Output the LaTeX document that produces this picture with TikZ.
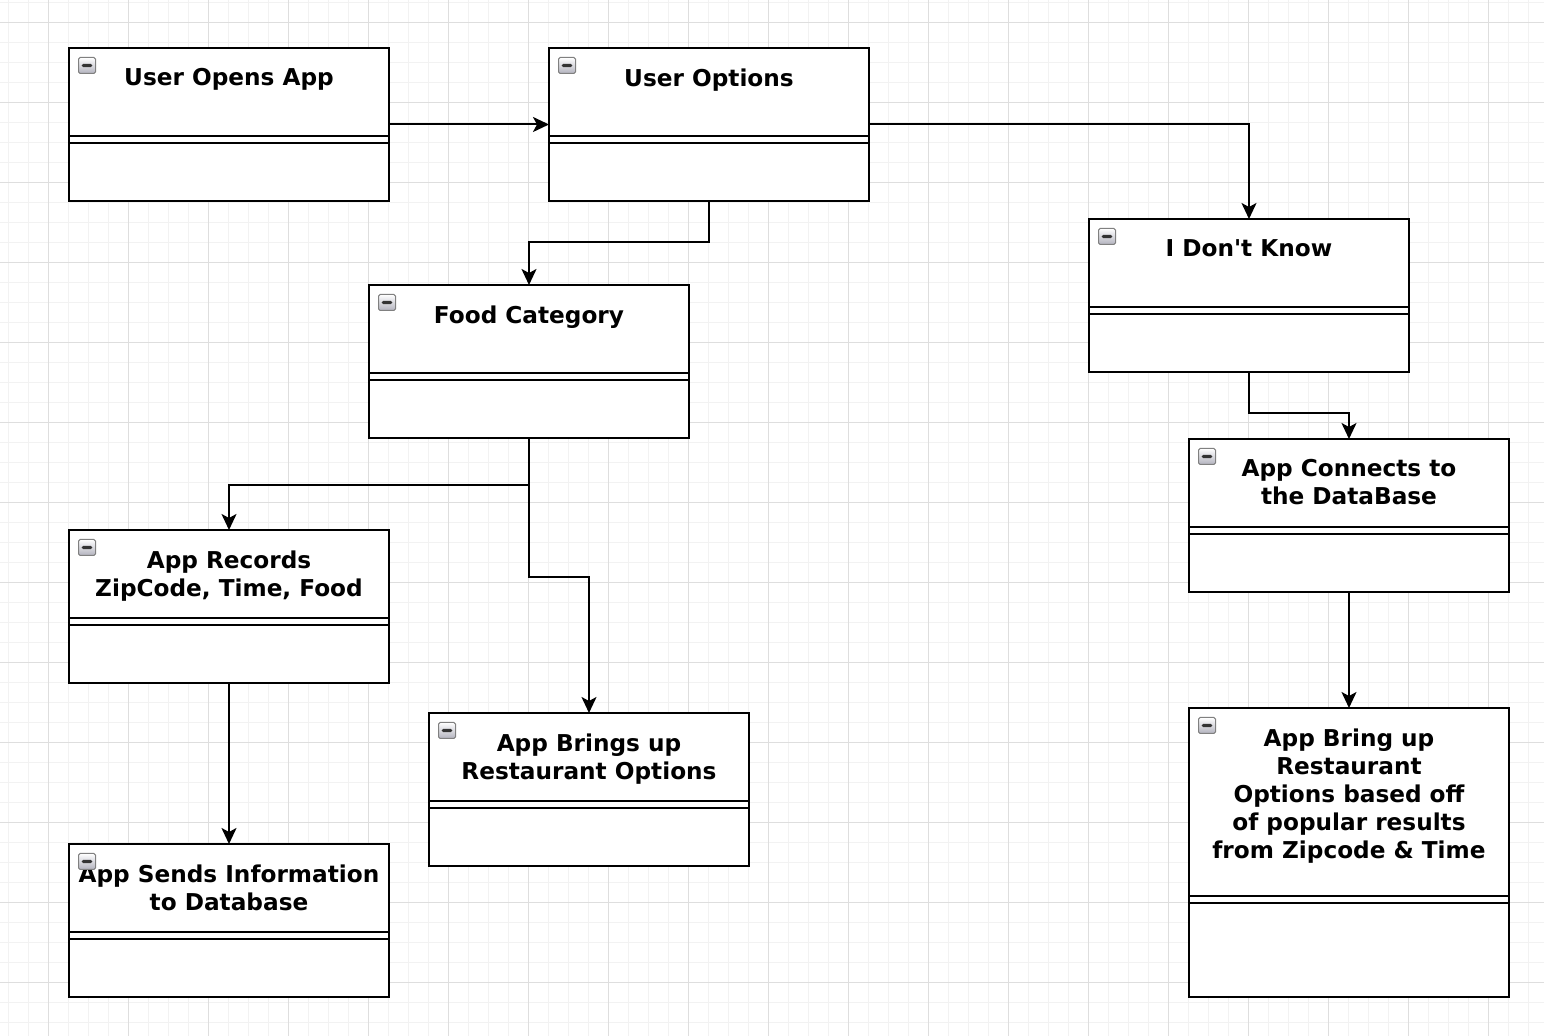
\documentclass[tikz,border=0pt]{standalone}
\usepackage{fontspec}
\setmainfont{DejaVu Sans}
\usetikzlibrary{arrows.meta,positioning,calc}

\tikzset{
 umlbox/.style={rectangle,draw=black,line width=1pt,fill=white,minimum width=160pt,minimum height=76.5pt,inner sep=0pt,outer sep=0pt},
 boxtitle/.style={align=center,inner sep=0pt,font=\bfseries\fontsize{11.6}{14}\selectfont},
 minusicon/.style={rectangle,draw=black!50,line width=0.5pt,rounded corners=0.8pt,top color=white,bottom color=blue!15!black!30,minimum width=8.5pt,minimum height=8pt,inner sep=0pt,
  path picture={\fill[black!80] ([xshift=1.6pt,yshift=-0.8pt]path picture bounding box.west) rectangle ([xshift=-1.6pt,yshift=0.8pt]path picture bounding box.east);}},
 divider/.style={draw=black,line width=1pt},
 flow/.style={draw=black,line width=1pt,-{Stealth[length=8pt,width=7.5pt,inset=2pt]}},
 minorline/.style={draw=black!5,line width=0.5pt},
 majorline/.style={draw=black!13,line width=0.5pt}
}

\begin{document}
\begin{tikzpicture}[x=0.5pt,y=-0.5pt]
\useasboundingbox (0,0) rectangle (1544,1036);
\fill[white] (0,0) rectangle (1544,1036);
\foreach \x in {8,28,...,1544} \draw[minorline] (\x,0) -- (\x,1036);
\foreach \y in {3,23,...,1036} \draw[minorline] (0,\y) -- (1544,\y);
\foreach \x in {48,128,...,1544} \draw[majorline] (\x,0) -- (\x,1036);
\foreach \y in {23,103,...,1036} \draw[majorline] (0,\y) -- (1544,\y);

\node[umlbox] (uoa) at (229,124.5){};
\node[umlbox] (uop) at (709,124.5){};
\node[umlbox] (idk) at (1249,295.5){};
\node[umlbox] (fc) at (529,361.5){};
\node[umlbox] (con) at (1349,515.5){};
\node[umlbox] (rec) at (229,606.5){};
\node[umlbox] (bru) at (589,789.5){};
\node[umlbox] (snd) at (229,920.5){};
\node[umlbox,minimum height=144.5pt] (pop) at (1349,852.5){};

\foreach \b/\d in {uoa/88,uop/88,idk/88,fc/88,con/88,rec/88,bru/88,snd/88,pop/188}{
  \draw[divider] ($(\b.north west)+(0,\d)$) -- ($(\b.north east)+(0,\d)$);
  \draw[divider] ($(\b.north west)+(0,\d+7.5)$) -- ($(\b.north east)+(0,\d+7.5)$);
}

\node[boxtitle,below=10pt of uoa.north] (uoat) {User Opens App};
\node[boxtitle,below=10pt of uop.north] (uopt) {User Options};
\node[boxtitle,below=10pt of idk.north] (idkt) {I Don\textquotesingle t Know};
\node[boxtitle,below=10pt of fc.north] (fct) {Food Category};
\node[boxtitle,below=10pt of con.north] (cont) {App Connects to\\ the DataBase};
\node[boxtitle,below=10pt of rec.north] (rect) {App Records\\ZipCode, Time, Food};
\node[boxtitle,below=10pt of bru.north] (brut) {App Brings up\\Restaurant Options};
\node[boxtitle,below=10pt of snd.north] (sndt) {App Sends Information\\to Database};
\node[boxtitle,below=10pt of pop.north] (popt) {App Bring up\\Restaurant\\Options based off\\of popular results\\from Zipcode \& Time};

\node[minusicon,below right=4.5pt and 4.5pt of uoa.north west] (uoai) {};
\node[minusicon,below right=4.5pt and 4.5pt of uop.north west] (uopi) {};
\node[minusicon,below right=4.5pt and 4.5pt of idk.north west] (idki) {};
\node[minusicon,below right=4.5pt and 4.5pt of fc.north west] (fci) {};
\node[minusicon,below right=4.5pt and 4.5pt of con.north west] (coni) {};
\node[minusicon,below right=4.5pt and 4.5pt of rec.north west] (reci) {};
\node[minusicon,below right=4.5pt and 4.5pt of bru.north west] (brui) {};
\node[minusicon,below right=4.5pt and 4.5pt of snd.north west] (sndi) {};
\node[minusicon,below right=4.5pt and 4.5pt of pop.north west] (popi) {};

\draw[flow] (uoa) -- (uop);
\draw[flow] (uop.east) -| (idk.north);
\draw[flow] (uop.south) -- ++(0,41) -| (fc.north);
\draw[flow] (fc.south) -- ++(0,47) -| (rec.north);
\draw[flow] (fc.south) -- ++(0,139) -| (bru.north);
\draw[flow] (idk.south) -- ++(0,41) -| (con.north);
\draw[flow] (con) -- (pop);
\draw[flow] (rec) -- (snd);
\end{tikzpicture}
\end{document}
